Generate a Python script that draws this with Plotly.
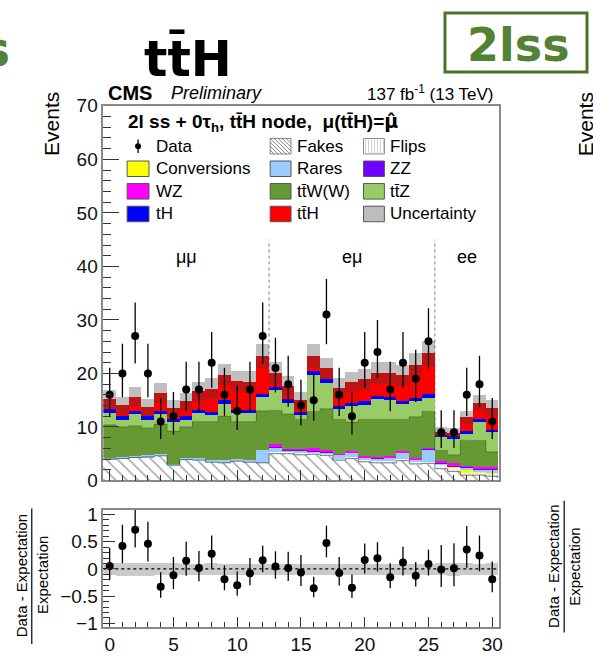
import plotly.graph_objects as go
import numpy as np

# ---------------- data ----------------
bin_index = [0, 1, 2, 3, 4, 5, 6, 7, 8, 9, 10, 11, 12, 13, 14, 15, 16, 17, 18, 19, 20,
             21, 22, 23, 24, 25, 26, 27, 28, 29, 30]
data_obs = [16, 20, 27, 20, 11, 12, 17, 17, 22, 16, 13, 17, 27,
            21, 18, 14, 15, 31, 16, 12, 22, 24, 17, 22, 19, 26,
            9, 9, 16, 18, 11]
fakes = [4.0, 4.1, 4.3, 4.4, 4.6, 2.9, 3.9, 3.8, 3.4, 3.3, 3.6, 3.4, 3.3,
         5.0, 5.0, 4.8, 4.9, 4.7, 3.8, 4.1, 3.5, 3.3, 3.3, 3.7, 3.1, 3.2,
         2.2, 1.7, 1.0, 1.0, 0.8]
flips = [0, 0, 0, 0, 0, 0, 0, 0, 0, 0, 0, 0, 0,
         0.3, 0.3, 0.3, 0.3, 0.3, 0.3, 0.3, 0.3, 0.3, 0.3, 0.3, 0.3, 0.3,
         0.8, 0.8, 0.6, 0.6, 0.5]
conversions = [0, 0, 0, 0, 0, 0, 0, 0, 0, 0, 0, 0, 0,
               0, 0, 0, 0, 0, 0, 0, 0, 0, 0, 0, 0, 0,
               0.05, 0.05, 0.3, 0.05, 0.05]
rares = [0.3, 0.3, 0.3, 0.3, 0.4, 0.3, 0.4, 0.4, 0.4, 0.5, 0.5, 0.5, 2.4,
         0.9, 0.4, 0.6, 0.3, 0.3, 0.7, 0.9, 0.5, 0.6, 0.7, 1.2, 0.5, 2.4,
         0.1, 0.1, 0.6, 0.5, 0.8]
zz = [0, 0, 0, 0, 0, 0, 0, 0, 0, 0, 0, 0, 0,
      0.05, 0.05, 0.05, 0.1, 0.1, 0.05, 0.05, 0.05, 0.05, 0.05, 0.05, 0.05, 0.05,
      0.1, 0.1, 0.1, 0.1, 0.1]
wz = [0, 0, 0, 0, 0, 0, 0, 0, 0, 0, 0, 0, 0,
      0.6, 0.2, 0.2, 0.5, 0.4, 0.2, 0.2, 0.2, 0.2, 0.2, 0.2, 0.2, 0.2,
      0.5, 0.6, 0.2, 0.3, 0.3]
ttw = [6.1, 5.6, 5.6, 5.1, 5.5, 6.0, 5.7, 6.8, 7.2, 8.2, 6.9, 7.1, 7.3,
       6.25, 6.45, 5.45, 6.8, 7.6, 6.35, 5.35, 6.85, 6.95, 6.85, 5.95, 7.75, 6.75,
       1.85, 1.45, 4.7, 4.9, 2.8]
ttz = [2.3, 1.4, 2.2, 1.6, 1.9, 1.8, 1.4, 1.6, 1.2, 2.4, 1.6, 1.6, 2.6,
       3.8, 2.2, 0.9, 6.9, 4.9, 1.9, 3.0, 2.8, 3.9, 3.6, 2.9, 2.9, 2.6,
       2.5, 3.0, 1.3, 3.5, 3.7]
th = [0.6, 0.6, 0.6, 0.6, 0.6, 0.6, 0.6, 0.6, 0.6, 0.6, 0.6, 0.6, 0.6,
      0.6, 0.6, 0.6, 0.6, 0.6, 0.6, 0.6, 0.6, 0.6, 0.6, 0.6, 0.6, 0.6,
      0.5, 0.5, 0.5, 0.5, 0.5]
tth = [1.9, 2.1, 2.7, 1.7, 3.4, 2.0, 2.8, 3.5, 4.4, 4.8, 5.4, 5.3, 7.1,
       2.6, 2.5, 2.1, 2.9, 2.1, 3.4, 3.9, 4.1, 4.2, 4.5, 4.8, 6.3, 7.7,
       0.5, 0.6, 2.5, 3.0, 4.0]
unc = [1.7, 1.6, 1.8, 1.6, 1.8, 1.5, 1.6, 1.8, 1.9, 2.0, 1.9, 1.9, 2.3,
       2.0, 1.8, 1.6, 2.2, 2.0, 1.8, 1.9, 1.9, 2.0, 2.0, 2.0, 2.1, 2.3,
       1.0, 1.0, 1.3, 1.5, 1.5]

region_labels = ["\u03bc\u03bc", "e\u03bc", "ee"]
region_label_x = [6.0, 19.0, 28.0]
region_bounds = [12.5, 25.5]

upper_yticks = [0, 10, 20, 30, 40, 50, 60, 70]
lower_xticks = [0, 5, 10, 15, 20, 25, 30]
lower_yticks = [-1, -0.5, 0, 0.5, 1]

# ---------------- geometry helpers ----------------
W, H = 593, 658


def px(x):
    return x / W


def py(y):
    return 1 - y / H


FONT = "Liberation Sans, Arial, Helvetica, sans-serif"
BOLD = "DejaVu Sans, Verdana, sans-serif"

x = np.array(bin_index, dtype=float)
obs = np.array(data_obs, dtype=float)

# Poisson (Garwood-like, Wilson-Hilferty approximation) errors
n = obs
lo = n * (1 - 1 / (9 * np.maximum(n, 1)) - 1 / (3 * np.sqrt(np.maximum(n, 1)))) ** 3
hi = (n + 1) * (1 - 1 / (9 * (n + 1)) + 1 / (3 * np.sqrt(n + 1))) ** 3
err_dn = n - lo
err_up = hi - n

components = [
    ("Fakes", fakes, "white", dict(shape="\\", fgcolor="#3c3c3c", bgcolor="white", size=8, solidity=0.18)),
    ("Flips", flips, "white", dict(shape="|", fgcolor="#a0a0a0", bgcolor="white", size=4, solidity=0.25)),
    ("Conversions", conversions, "#ffff00", None),
    ("Rares", rares, "#99ccff", None),
    ("ZZ", zz, "#7000ff", None),
    ("WZ", wz, "#ff00ff", None),
    ("ttW(W)", ttw, "#669933", None),
    ("ttZ", ttz, "#99cc66", None),
    ("tH", th, "#0000ff", None),
    ("ttH", tth, "#ff0000", None),
]

fig = go.Figure()
cum = np.zeros(len(x))
tops = []
for name, vals, color, pattern in components:
    v = np.array(vals, dtype=float)
    marker = dict(color=color, line=dict(width=0))
    if pattern is not None:
        marker["pattern"] = pattern
    fig.add_trace(go.Bar(x=x, y=v, base=cum.copy(), width=1.0, marker=marker,
                         name=name, showlegend=False, hoverinfo="skip",
                         xaxis="x", yaxis="y"))
    cum = cum + v
    tops.append(cum.copy())
total = cum
u = np.array(unc, dtype=float)

# thin outlines (ROOT-style step lines) at the top of fakes and ttW
edges = np.concatenate([x - 0.5, [x[-1] + 0.5]])
for idx, col in [(0, "rgba(40,40,40,0.75)"), (6, "rgba(50,80,20,0.6)")]:
    t = tops[idx]
    fig.add_trace(go.Scatter(x=edges, y=np.concatenate([t, [t[-1]]]), mode="lines",
                             line=dict(color=col, width=0.8, shape="hv"),
                             showlegend=False, hoverinfo="skip", xaxis="x", yaxis="y"))

# uncertainty band
fig.add_trace(go.Bar(x=x, y=2 * u, base=total - u, width=1.0,
                     marker=dict(color="rgba(60,60,60,0.33)", line=dict(width=0)),
                     showlegend=False, hoverinfo="skip", xaxis="x", yaxis="y"))

# data
fig.add_trace(go.Scatter(x=x, y=obs, mode="markers",
                         marker=dict(color="black", size=8),
                         error_y=dict(type="data", symmetric=False, array=err_up,
                                      arrayminus=err_dn, thickness=1.3, width=0,
                                      color="black"),
                         showlegend=False, hoverinfo="skip", xaxis="x", yaxis="y"))

# ratio panel
rel_unc = u / total
fig.add_trace(go.Bar(x=x, y=2 * rel_unc, base=-rel_unc, width=1.0,
                     marker=dict(color="rgba(150,150,150,0.5)", line=dict(width=0)),
                     showlegend=False, hoverinfo="skip", xaxis="x2", yaxis="y2"))
ratio = obs / total - 1
fig.add_trace(go.Scatter(x=x, y=ratio, mode="markers",
                         marker=dict(color="black", size=8),
                         error_y=dict(type="data", symmetric=False, array=err_up / total,
                                      arrayminus=err_dn / total, thickness=1.3, width=0,
                                      color="black"),
                         showlegend=False, hoverinfo="skip", xaxis="x2", yaxis="y2"))

shapes = []
annotations = []

# zero line in ratio
shapes.append(dict(type="line", xref="x2", yref="y2", x0=-0.5, x1=30.5, y0=0, y1=0,
                   line=dict(color="black", width=1.2, dash="dot"), layer="above"))
# region dividers
for b in region_bounds:
    shapes.append(dict(type="line", xref="x", yref="y", x0=b, x1=b, y0=0, y1=45,
                       line=dict(color="#777", width=1, dash="dot"), layer="below"))
for lab, lx in zip(region_labels, region_label_x):
    annotations.append(dict(text=lab, x=lx, y=41.8, xref="x", yref="y", showarrow=False,
                            font=dict(family=FONT, size=18, color="black")))

# ---------------- legend (drawn manually) ----------------
rows = [140.7, 164.0, 187.3, 210.7]
cols_box = [(128, 150), (272, 293), (366, 387)]
cols_txt = [155, 297, 391]
legend_items = [
    (0, 0, "Data", None, "data"),
    (0, 1, "Fakes", "white", "hatch"),
    (0, 2, "Flips", "white", "vhatch"),
    (1, 0, "Conversions", "#ffff00", "box"),
    (1, 1, "Rares", "#99ccff", "box"),
    (1, 2, "ZZ", "#7000ff", "box"),
    (2, 0, "WZ", "#ff00ff", "box"),
    (2, 1, "tt\u0304W(W)", "#669933", "box"),
    (2, 2, "tt\u0304Z", "#99cc66", "box"),
    (3, 0, "tH", "#0000ff", "box"),
    (3, 1, "tt\u0304H", "#ff0000", "box"),
    (3, 2, "Uncertainty", "#bdbdbd", "box"),
]
for r, c, label, fill, kind in legend_items:
    yc = rows[r]
    x0, x1 = cols_box[c]
    y0, y1 = yc - 8, yc + 8
    if kind == "data":
        xm = (x0 + x1) / 2
        shapes.append(dict(type="line", xref="paper", yref="paper", x0=px(xm), x1=px(xm),
                           y0=py(yc - 7), y1=py(yc + 7), line=dict(color="black", width=1.3)))
        shapes.append(dict(type="circle", xref="paper", yref="paper", x0=px(xm - 3), x1=px(xm + 3),
                           y0=py(yc - 3), y1=py(yc + 3), fillcolor="black",
                           line=dict(color="black", width=0)))
    else:
        lc = "#555" if kind == "box" else "#888"
        shapes.append(dict(type="rect", xref="paper", yref="paper", x0=px(x0), x1=px(x1),
                           y0=py(y1), y1=py(y0), fillcolor=fill, line=dict(color=lc, width=1)))
        if kind == "hatch":
            for k in range(-16, 22, 4):
                ax, ay = x0 + k, y0
                bx, by = x0 + k + 16, y1
                if ax < x0:
                    ay = y0 + (x0 - ax)
                    ax = x0
                if bx > x1:
                    by = y1 - (bx - x1)
                    bx = x1
                if bx > ax and by > ay:
                    shapes.append(dict(type="line", xref="paper", yref="paper", x0=px(ax), x1=px(bx),
                                       y0=py(ay), y1=py(by), line=dict(color="#666", width=0.8)))
        if kind == "vhatch":
            for k in range(2, 22, 3):
                shapes.append(dict(type="line", xref="paper", yref="paper", x0=px(x0 + k), x1=px(x0 + k),
                                   y0=py(y0 + 1), y1=py(y1 - 1), line=dict(color="#bbb", width=0.7)))
    annotations.append(dict(text=label, x=px(cols_txt[c]), y=py(yc), xref="paper", yref="paper",
                            xanchor="left", yanchor="middle", showarrow=False,
                            font=dict(family=FONT, size=17, color="black")))

# legend header
annotations.append(dict(text="<b>2l ss + 0\u03c4<sub>h</sub>, tt\u0304H node,  \u03bc(tt\u0304H)="
                             "<span style=\"font-family:DejaVu Sans\">\u03bc\u0302</span></b>",
                        x=px(127), y=py(116), xref="paper", yref="paper", xanchor="left",
                        yanchor="middle", showarrow=False,
                        font=dict(family=FONT, size=19, color="black")))

# CMS labels
annotations.append(dict(text="<b>CMS</b>", x=px(107), y=py(86), xref="paper", yref="paper",
                        xanchor="left", yanchor="middle", showarrow=False,
                        font=dict(family=FONT, size=20, color="black")))
annotations.append(dict(text="<i>Preliminary</i>", x=px(170), y=py(86), xref="paper", yref="paper",
                        xanchor="left", yanchor="middle", showarrow=False,
                        font=dict(family=FONT, size=18, color="black")))
annotations.append(dict(text="137 fb<sup>-1</sup> (13 TeV)", x=px(499), y=py(86), xref="paper",
                        yref="paper", xanchor="right", yanchor="middle", showarrow=False,
                        font=dict(family=FONT, size=17, color="black")))

# axis titles
annotations.append(dict(text="Events", x=px(52), y=py(118), xref="paper", yref="paper",
                        textangle=-90, showarrow=False, xanchor="center", yanchor="middle",
                        font=dict(family=FONT, size=21, color="black")))
annotations.append(dict(text="Data - Expectation", x=px(22), y=py(584), xref="paper", yref="paper",
                        textangle=-90, showarrow=False, xanchor="center", yanchor="middle",
                        font=dict(family=FONT, size=15, color="black")))
annotations.append(dict(text="Expectation", x=px(43), y=py(584), xref="paper", yref="paper",
                        textangle=-90, showarrow=False, xanchor="center", yanchor="middle",
                        font=dict(family=FONT, size=15, color="black")))
shapes.append(dict(type="line", xref="paper", yref="paper", x0=px(32), x1=px(32),
                   y0=py(515), y1=py(655), line=dict(color="black", width=1.2)))

# neighbouring slide pieces (partially cut)
annotations.append(dict(text="Events", x=px(589), y=py(118), xref="paper", yref="paper",
                        textangle=-90, showarrow=False, xanchor="center", yanchor="middle",
                        font=dict(family=FONT, size=21, color="black")))
annotations.append(dict(text="Data - Expectation", x=px(557), y=py(575), xref="paper", yref="paper",
                        textangle=-90, showarrow=False, xanchor="center", yanchor="middle",
                        font=dict(family=FONT, size=15, color="black")))
annotations.append(dict(text="Expectation", x=px(579), y=py(575), xref="paper", yref="paper",
                        textangle=-90, showarrow=False, xanchor="center", yanchor="middle",
                        font=dict(family=FONT, size=15, color="black")))
shapes.append(dict(type="line", xref="paper", yref="paper", x0=px(568), x1=px(568),
                   y0=py(507), y1=py(643), line=dict(color="black", width=1.2)))

# slide titles
annotations.append(dict(text="<b>tt\u0304H</b>", x=px(189), y=py(50), xref="paper", yref="paper",
                        xanchor="center", yanchor="middle", showarrow=False,
                        font=dict(family=BOLD, size=49, color="black")))
annotations.append(dict(text="<b>2lss</b>", x=px(12), y=py(40), xref="paper", yref="paper",
                        xanchor="right", yanchor="middle", showarrow=False,
                        font=dict(family=BOLD, size=48, color="#548235")))
shapes.append(dict(type="rect", xref="paper", yref="paper", x0=px(448), x1=px(591),
                   y0=py(64), y1=py(3), line=dict(color="#4a7526", width=3), fillcolor="rgba(0,0,0,0)"))
annotations.append(dict(text="<b>2lss</b>", x=px(522), y=py(36), xref="paper", yref="paper",
                        xanchor="center", yanchor="middle", showarrow=False,
                        font=dict(family=BOLD, size=46, color="#548235")))

axis_line = "#8a8a8a"
tick_font = dict(family=FONT, size=19, color="#111")

fig.update_layout(
    width=W, height=H,
    margin=dict(l=0, r=0, t=0, b=0),
    paper_bgcolor="white", plot_bgcolor="white",
    barmode="overlay", bargap=0,
    showlegend=False,
    shapes=shapes, annotations=annotations,
    xaxis=dict(domain=[px(104), px(502)], range=[-0.5, 30.5], anchor="y",
               showticklabels=False, ticks="inside", tickmode="array", tickvals=lower_xticks,
               ticklen=11, tickcolor="#333", tickwidth=1,
               minor=dict(ticks="inside", dtick=1, ticklen=6, tickcolor="#333", tickwidth=1),
               showgrid=False, zeroline=False, showline=True, mirror=True,
               linecolor=axis_line, linewidth=1.5),
    yaxis=dict(domain=[py(486), py(99)], range=[0, 70], anchor="x",
               tickmode="array", tickvals=upper_yticks, ticks="inside", ticklen=16,
               tickcolor="#333", tickwidth=1,
               minor=dict(ticks="inside", dtick=2, ticklen=8, tickcolor="#333", tickwidth=1),
               tickfont=tick_font, showgrid=False, zeroline=False, showline=True,
               mirror=True, linecolor=axis_line, linewidth=1.5),
    xaxis2=dict(domain=[px(104), px(502)], range=[-0.5, 30.5], anchor="y2",
                tickmode="array", tickvals=lower_xticks, ticks="inside", ticklen=10,
                tickcolor="#333", tickwidth=1,
                minor=dict(ticks="inside", dtick=1, ticklen=5, tickcolor="#333", tickwidth=1),
                tickfont=tick_font, showgrid=False, zeroline=False, showline=True,
                mirror=True, linecolor=axis_line, linewidth=1.5),
    yaxis2=dict(domain=[py(637), py(516)], range=[-1.06, 1.09], anchor="x2",
                tickmode="array", tickvals=lower_yticks, ticktext=["\u22121", "\u22120.5", "0", "0.5", "1"],
                ticks="inside", ticklen=12, tickcolor="#333", tickwidth=1,
                minor=dict(ticks="inside", dtick=0.1, ticklen=6, tickcolor="#333", tickwidth=1),
                tickfont=tick_font, showgrid=False, zeroline=False, showline=True,
                mirror=True, linecolor=axis_line, linewidth=1.5),
)

fig.write_html("out.html")
